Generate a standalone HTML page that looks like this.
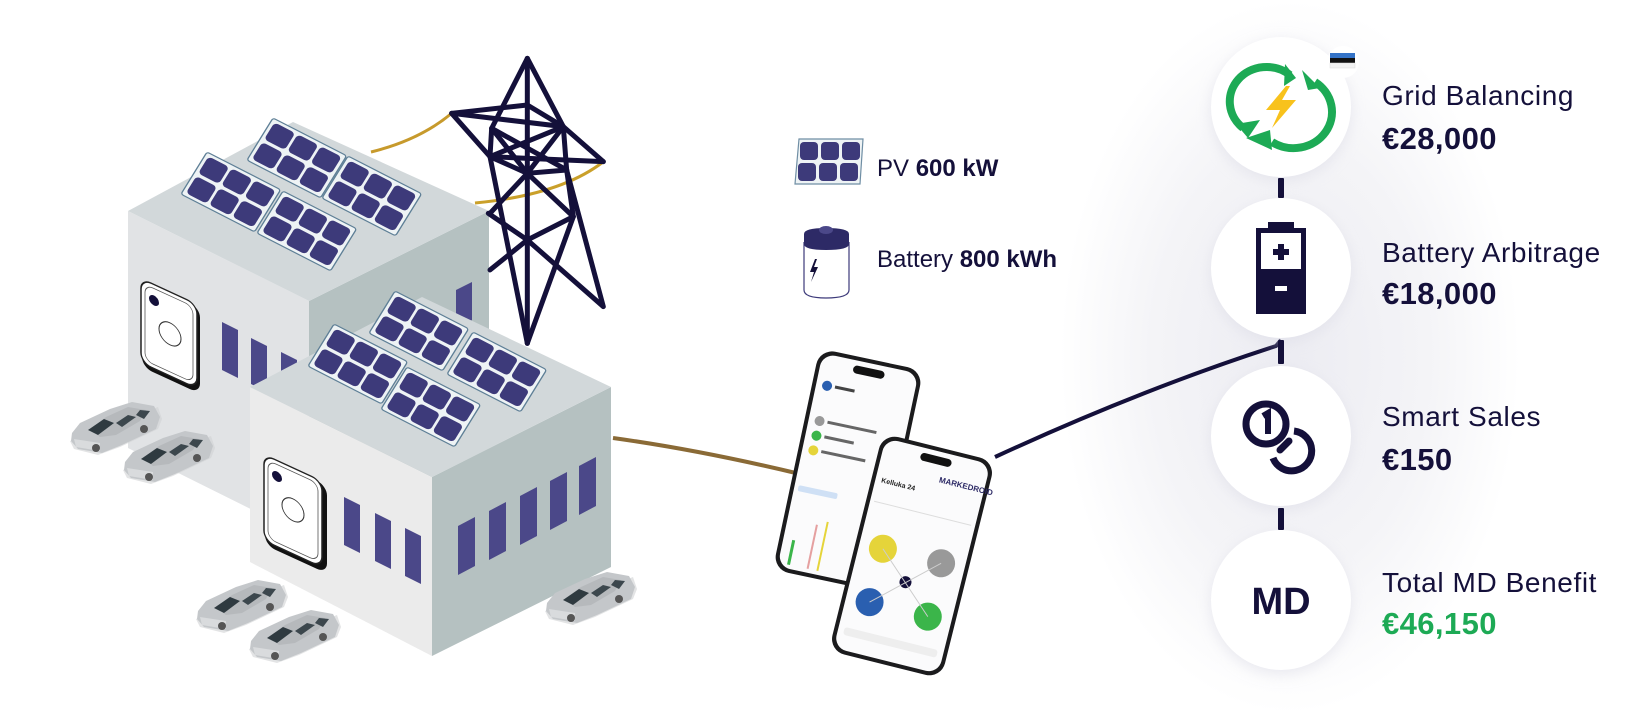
<!DOCTYPE html>
<html><head><meta charset="utf-8"><style>
html,body{margin:0;padding:0;background:#fff;}
body{width:1629px;height:714px;overflow:hidden;position:relative;font-family:"Liberation Sans",sans-serif;color:#14103a;}
.t{position:absolute;left:1382px;font-size:28px;letter-spacing:0.6px;white-space:nowrap;}
.v{position:absolute;left:1382px;font-size:31px;font-weight:bold;letter-spacing:0.4px;white-space:nowrap;}
</style></head><body>
<svg width="1629" height="714" viewBox="0 0 1629 714" style="position:absolute;left:0;top:0;display:block">
<defs>
<radialGradient id="glow" cx="0.5" cy="0.5" r="0.5">
<stop offset="0" stop-color="#ececf2"/><stop offset="0.6" stop-color="#f4f4f7"/><stop offset="1" stop-color="#ffffff"/>
</radialGradient>
<filter id="sh" x="-30%" y="-30%" width="160%" height="160%"><feGaussianBlur stdDeviation="7"/></filter>
<g id="panel">
<rect x="0" y="0" width="92" height="62" rx="3" fill="#eef3f5" stroke="#5e7f96" stroke-width="1.5"/>
<rect x="4" y="4" width="26" height="25" rx="5" fill="#3d3a7a"/><rect x="33" y="4" width="26" height="25" rx="5" fill="#3d3a7a"/><rect x="62" y="4" width="26" height="25" rx="5" fill="#3d3a7a"/>
<rect x="4" y="33" width="26" height="25" rx="5" fill="#3d3a7a"/><rect x="33" y="33" width="26" height="25" rx="5" fill="#3d3a7a"/><rect x="62" y="33" width="26" height="25" rx="5" fill="#3d3a7a"/>
</g>
<g id="car">
<polygon points="0,48 4,56 28,62 50,54 88,36 92,26 88,14" fill="#d0d2d4" opacity="0.6"/>
<polygon points="2,40 10,30 40,16 62,9 84,13 90,24 86,36 52,52 32,60 8,56 1,48" fill="#c4c7ca"/>
<polygon points="20,36 36,24 58,14 76,17 70,28 46,42 30,44" fill="#b6b9bc"/>
<polygon points="18,37 34,26 44,30 28,42" fill="#2f3a40"/>
<polygon points="46,30 58,22 66,24 52,34" fill="#3c474d"/>
<polygon points="70,17 80,18 74,26 66,22" fill="#3c474d"/>
<polygon points="4,46 30,50 30,58 6,54" fill="#d9dbdd"/>
<circle cx="26" cy="55" r="4" fill="#555"/><circle cx="74" cy="36" r="4" fill="#555"/>
</g>
</defs>

<!-- right glow column -->
<rect x="1060" y="0" width="460" height="714" fill="url(#glow)"/>

<!-- cables -->
<path d="M371,152 Q420,140 452,113" stroke="#c79a2c" stroke-width="3" fill="none"/>
<path d="M475,203 Q560,195 603,162" stroke="#caa02a" stroke-width="3" fill="none"/>
<path d="M613,438 Q700,450 800,474" stroke="#8a6a36" stroke-width="4" fill="none"/>
<path d="M995,457 Q1140,390 1276,346 L1281,340" stroke="#14103a" stroke-width="4" fill="none"/>

<!-- back building -->
<polygon points="128,211 309,301 309,538 128,448" fill="#e1e3e5"/>
<polygon points="309,301 489,211 489,448 309,538" fill="#b5c1c1"/>
<polygon points="128,211 293,122 489,211 309,301" fill="#d2d8da"/>
<polygon points="456,290 472,282 472,320 456,328" fill="#4b4889"/>
<g transform="matrix(1,0.46,0,1,142,281)"><rect x="0" y="0" width="58" height="86" rx="10" fill="#111"/><rect x="-1" y="-2" width="56" height="84" rx="10" fill="#fff" stroke="#222" stroke-width="1.5"/><rect x="3" y="2" width="48" height="76" rx="8" fill="none" stroke="#555" stroke-width="0.8"/><circle cx="28" cy="40" r="11" fill="none" stroke="#333" stroke-width="1"/><circle cx="12" cy="14" r="5" fill="#14103a"/></g>
<polygon points="222,322 238,330 238,378 222,370" fill="#4b4889"/>
<polygon points="251,338 267,346 267,392 251,384" fill="#4b4889"/>
<polygon points="281,352 297,360 297,400 281,392" fill="#4b4889"/>
<use href="#panel" transform="matrix(0.80,0.41,-0.42,0.68,273,118)"/>
<use href="#panel" transform="matrix(0.80,0.41,-0.42,0.68,348,156)"/>
<use href="#panel" transform="matrix(0.80,0.41,-0.42,0.68,207,152)"/>
<use href="#panel" transform="matrix(0.80,0.41,-0.42,0.68,283,191)"/>

<!-- tower -->
<g transform="translate(430,40) scale(0.3333)" stroke="#14103a" stroke-width="15" fill="none" stroke-linejoin="round" stroke-linecap="round">
<path d="M292,55 L292,910"/>
<path d="M292,55 L185,265 L180,350 L292,910"/>
<path d="M292,55 L400,260 L520,365"/>
<path d="M65,220 L292,195 L400,260 L410,390 L430,530 L292,910"/>
<path d="M65,220 L180,350 L520,365"/>
<path d="M65,220 L400,260"/>
<path d="M185,265 L410,390"/>
<path d="M400,260 L180,350"/>
<path d="M185,265 L292,400 L400,260"/>
<path d="M180,350 L292,400 L430,530"/>
<path d="M410,390 L292,400 L180,520"/>
<path d="M175,520 L292,600 L430,530"/>
<path d="M180,690 L292,600 L520,800 L410,390"/>
</g>

<!-- front building -->
<polygon points="250,387 432,477 432,656 250,562" fill="#ebebeb"/>
<polygon points="432,477 611,387 611,567 432,656" fill="#b5c1c1"/>
<polygon points="250,387 422,297 611,387 432,477" fill="#d2d8da"/>
<g transform="matrix(1,0.46,0,1,265,457)"><rect x="0" y="0" width="62" height="88" rx="10" fill="#111"/><rect x="-1" y="-2" width="58" height="86" rx="10" fill="#fff" stroke="#222" stroke-width="1.5"/><rect x="3" y="2" width="50" height="78" rx="8" fill="none" stroke="#555" stroke-width="0.8"/><circle cx="28" cy="40" r="11" fill="none" stroke="#333" stroke-width="1"/><circle cx="12" cy="14" r="5" fill="#14103a"/></g>
<polygon points="344,497 360,505 360,553 344,545" fill="#4b4889"/>
<polygon points="375,513 391,521 391,569 375,561" fill="#4b4889"/>
<polygon points="405,528 421,536 421,584 405,576" fill="#4b4889"/>
<polygon points="458,526 475,517 475,566 458,575" fill="#4b4889"/>
<polygon points="489,511 506,502 506,551 489,560" fill="#4b4889"/>
<polygon points="520,496 537,487 537,536 520,545" fill="#4b4889"/>
<polygon points="550,481 567,472 567,521 550,530" fill="#4b4889"/>
<polygon points="579,466 596,457 596,506 579,515" fill="#4b4889"/>
<use href="#panel" transform="matrix(0.80,0.41,-0.42,0.68,395,291)"/>
<use href="#panel" transform="matrix(0.80,0.41,-0.42,0.68,473,332)"/>
<use href="#panel" transform="matrix(0.80,0.41,-0.42,0.68,334,324)"/>
<use href="#panel" transform="matrix(0.80,0.41,-0.42,0.68,407,367)"/>

<!-- cars -->
<use href="#car" transform="translate(70,393)"/>
<use href="#car" transform="translate(123,422)"/>
<use href="#car" transform="translate(196,571)"/>
<use href="#car" transform="translate(249,601)"/>
<use href="#car" transform="translate(545,563)"/>

<!-- legend icons -->
<g transform="translate(795,139)">
<polygon points="4,0 68,0 65,45 0,45" fill="#eef3f5" stroke="#6f8ea4" stroke-width="1.2"/>
<rect x="5" y="3" width="18" height="18" rx="4" fill="#3d3a7a"/><rect x="26" y="3" width="18" height="18" rx="4" fill="#3d3a7a"/><rect x="47" y="3" width="18" height="18" rx="4" fill="#3d3a7a"/>
<rect x="3" y="24" width="18" height="18" rx="4" fill="#3d3a7a"/><rect x="24" y="24" width="18" height="18" rx="4" fill="#3d3a7a"/><rect x="45" y="24" width="18" height="18" rx="4" fill="#3d3a7a"/>
</g>
<g transform="translate(803,222)">
<path d="M1,20 L1,68 Q1,76 23,76 Q46,76 46,68 L46,20" fill="#fff" stroke="#3d3a7a" stroke-width="1.2"/>
<path d="M1,12 Q1,6 23,6 Q46,6 46,12 L46,22 Q46,28 23,28 Q1,28 1,22 Z" fill="#2d2a66"/>
<ellipse cx="23" cy="8" rx="7" ry="4" fill="#4b4889"/>
<polygon points="12,37 7,50 11,50 8,60 15,45 11,45 14,37" fill="#14103a"/>
</g>

<!-- phones -->
<g transform="translate(848,470) rotate(12)">
<rect x="-53" y="-113" width="106" height="226" rx="16" fill="#1b1b1d"/>
<rect x="-49" y="-109" width="98" height="218" rx="13" fill="#fbfbfc"/>
<rect x="-16" y="-104" width="32" height="8" rx="4" fill="#111"/>
<circle cx="-38" cy="-78" r="5" fill="#2a5fb0"/><circle cx="-38" cy="-42" r="5" fill="#999"/><circle cx="-38" cy="-27" r="5" fill="#3bb54a"/><circle cx="-38" cy="-12" r="5" fill="#e5d43a"/>
<rect x="-30" y="-80" width="20" height="3" fill="#444"/><rect x="-30" y="-44" width="50" height="3" fill="#666"/><rect x="-30" y="-29" width="30" height="3" fill="#666"/><rect x="-30" y="-14" width="45" height="3" fill="#666"/>
<rect x="-45" y="25" width="40" height="6" rx="2" fill="#cfe0f5"/>
<rect x="-40" y="80" width="3" height="25" fill="#3bb54a"/><rect x="-20" y="60" width="2" height="45" fill="#e5a0a0"/><rect x="-10" y="55" width="2" height="50" fill="#e5d43a"/>
</g>
<g transform="translate(912,556) rotate(14)">
<rect x="-58" y="-112" width="116" height="224" rx="16" fill="#1b1b1d"/>
<rect x="-54" y="-108" width="108" height="216" rx="13" fill="#fbfbfc"/>
<rect x="-16" y="-103" width="32" height="8" rx="4" fill="#111"/>
<text x="8" y="-78" font-size="8" font-weight="bold" fill="#2d2a66" font-family="Liberation Sans,sans-serif">MARKEDROID</text>
<text x="-48" y="-64" font-size="7" font-weight="bold" fill="#222" font-family="Liberation Sans,sans-serif">Kelluka 24</text>
<line x1="-50" y1="-44" x2="50" y2="-44" stroke="#ddd"/>
<circle cx="-30" cy="0" r="14" fill="#e5d43a"/><circle cx="30" cy="0" r="14" fill="#999"/>
<circle cx="-30" cy="55" r="14" fill="#2a5fb0"/><circle cx="30" cy="55" r="14" fill="#3bb54a"/>
<circle cx="0" cy="27" r="6" fill="#14103a"/>
<line x1="-30" y1="0" x2="30" y2="55" stroke="#ccc"/><line x1="30" y1="0" x2="-30" y2="55" stroke="#ccc"/>
<rect x="-48" y="85" width="96" height="8" rx="3" fill="#eee"/>
</g>

<!-- circles -->
<g fill="#fff">
<circle cx="1281" cy="111" r="70" fill="#dcdce6" filter="url(#sh)" opacity="0.6"/>
<circle cx="1281" cy="107" r="70"/>
<circle cx="1281" cy="272" r="70" fill="#dcdce6" filter="url(#sh)" opacity="0.6"/>
<circle cx="1281" cy="268" r="70"/>
<circle cx="1281" cy="440" r="70" fill="#dcdce6" filter="url(#sh)" opacity="0.6"/>
<circle cx="1281" cy="436" r="70"/>
<circle cx="1281" cy="604" r="70" fill="#dcdce6" filter="url(#sh)" opacity="0.6"/>
<circle cx="1281" cy="600" r="70"/>
</g>
<g fill="#14103a">
<rect x="1278" y="178" width="6" height="20" rx="1"/>
<rect x="1278" y="340" width="6" height="24" rx="1"/>
<rect x="1278" y="508" width="6" height="22" rx="1"/>
</g>
<!-- flag -->
<circle cx="1343" cy="62" r="16" fill="#fff"/>
<rect x="1330" y="53" width="25" height="5" fill="#3473c7"/><rect x="1330" y="58" width="25" height="5" fill="#111"/><rect x="1330" y="63" width="25" height="5" fill="#f2f2f2" stroke="#ddd" stroke-width="0.5"/>
<!-- grid balancing icon -->
<g fill="none" stroke="#1daa55" stroke-width="8">
<path d="M1290,75 A33,31 0 0 0 1243,128"/>
<path d="M1272,142 A33,31 0 0 0 1315,82"/>
</g>
<polygon points="1285,64 1296,78 1284,86" fill="#1daa55"/>
<polygon points="1270,130 1272,150 1246,138" fill="#1daa55"/>
<polygon points="1236,124 1248,138 1260,120" fill="#1daa55"/>
<polygon points="1302,70 1320,88 1308,90" fill="#1daa55"/>
<polygon points="1286,86 1266,110 1280,110 1272,128 1296,100 1282,100 1290,86" fill="#f8c21c"/>
<!-- battery icon -->
<rect x="1256" y="228" width="50" height="86" fill="#14103a"/>
<rect x="1268" y="222" width="26" height="8" fill="#14103a"/>
<rect x="1261" y="233" width="40" height="36" fill="#fff"/>
<rect x="1278" y="244" width="6" height="16" fill="#14103a"/><rect x="1273" y="249" width="16" height="6" fill="#14103a"/>
<rect x="1275" y="286" width="12" height="5" fill="#fff"/>
<!-- coins -->
<circle cx="1266" cy="424" r="20" fill="none" stroke="#14103a" stroke-width="7"/>
<path d="M1263,416 L1268,413 L1268,434" stroke="#14103a" stroke-width="6" fill="none"/>
<path d="M1294,431 A20,20 0 1 1 1273,458" stroke="#14103a" stroke-width="7" fill="none"/>
<line x1="1289" y1="441" x2="1280" y2="450" stroke="#14103a" stroke-width="7" stroke-linecap="round"/>
<text x="1281" y="614" text-anchor="middle" font-family="Liberation Sans,sans-serif" font-weight="bold" font-size="38" fill="#14103a">MD</text>
</svg>

<div style="position:absolute;left:877px;top:155px;font-size:24px;white-space:nowrap">PV <b>600 kW</b></div>
<div style="position:absolute;left:877px;top:246px;font-size:24px;white-space:nowrap">Battery <b>800 kWh</b></div>

<div class="t" style="top:80px">Grid Balancing</div>
<div class="v" style="top:121px">€28,000</div>
<div class="t" style="top:237px">Battery Arbitrage</div>
<div class="v" style="top:276px">€18,000</div>
<div class="t" style="top:401px">Smart Sales</div>
<div class="v" style="top:442px">€150</div>
<div class="t" style="top:567px">Total MD Benefit</div>
<div class="v" style="top:606px;color:#1daa55">€46,150</div>
</body></html>
